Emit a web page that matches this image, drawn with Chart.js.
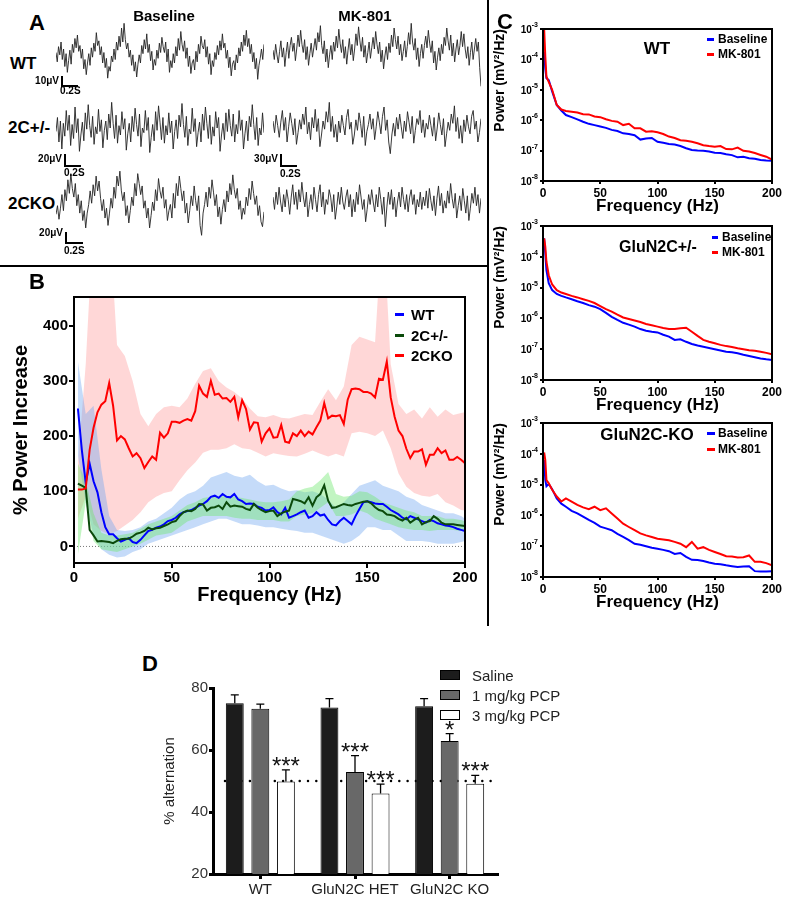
<!DOCTYPE html>
<html>
<head>
<meta charset="utf-8">
<script src="https://cdn.jsdelivr.net/npm/chart.js@4.4.1/dist/chart.umd.min.js"></script>
<style>
  body { margin: 0; background: #fff; }
  #fig { position: relative; width: 787px; height: 897px; background: #fff; overflow: hidden;
         font-family: 'Liberation Sans', Arial, sans-serif; }
  #fig canvas { position: absolute; }
  .t { position: absolute; white-space: nowrap; font-weight: bold; line-height: 1; transform: translate(-50%, -50%); }
  .l { position: absolute; white-space: nowrap; font-weight: bold; line-height: 1; transform: translateY(-50%); }
  .r { position: absolute; white-space: nowrap; font-weight: bold; line-height: 1; transform: translate(-100%, -50%); }
  .k { position: absolute; background: #000; }
  .sw { position: absolute; box-sizing: border-box; border: 1px solid #000; width: 20px; height: 10px; }
</style>
</head>
<body>
<div id="fig">
  <!-- panel A -->
  <canvas id="a1" width="208" height="70" style="left:56px;top:21px"></canvas>
  <canvas id="a2" width="208" height="70" style="left:273px;top:21px"></canvas>
  <canvas id="a3" width="208" height="70" style="left:56px;top:93px"></canvas>
  <canvas id="a4" width="208" height="70" style="left:273px;top:93px"></canvas>
  <canvas id="a5" width="208" height="74" style="left:56px;top:165px"></canvas>
  <canvas id="a6" width="208" height="74" style="left:273px;top:165px"></canvas>

  <div class="t" style="left:37px;top:23px;font-size:22px">A</div>
  <div class="t" style="left:164px;top:15px;font-size:15px">Baseline</div>
  <div class="t" style="left:365px;top:15px;font-size:15px">MK-801</div>
  <div class="l" style="left:10px;top:63px;font-size:17px">WT</div>
  <div class="l" style="left:8px;top:127px;font-size:17px">2C+/-</div>
  <div class="l" style="left:8px;top:203px;font-size:17px">2CKO</div>

  <div class="r" style="left:59px;top:81px;font-size:10px">10μV</div>
  <div class="k" style="left:61px;top:76px;width:1.5px;height:10px"></div>
  <div class="k" style="left:61px;top:85px;width:17px;height:1.5px"></div>
  <div class="l" style="left:60px;top:91px;font-size:10px">0.2S</div>

  <div class="r" style="left:62px;top:159px;font-size:10px">20μV</div>
  <div class="k" style="left:64px;top:154px;width:1.5px;height:12px"></div>
  <div class="k" style="left:64px;top:165px;width:17px;height:1.5px"></div>
  <div class="l" style="left:64px;top:173px;font-size:10px">0.2S</div>

  <div class="r" style="left:278px;top:159px;font-size:10px">30μV</div>
  <div class="k" style="left:280px;top:154px;width:1.5px;height:12px"></div>
  <div class="k" style="left:280px;top:165px;width:17px;height:1.5px"></div>
  <div class="l" style="left:280px;top:174px;font-size:10px">0.2S</div>

  <div class="r" style="left:63px;top:233px;font-size:10px">20μV</div>
  <div class="k" style="left:65px;top:232px;width:1.5px;height:11px"></div>
  <div class="k" style="left:65px;top:242px;width:18px;height:1.5px"></div>
  <div class="l" style="left:64px;top:251px;font-size:10px">0.2S</div>

  <!-- dividers -->
  <div class="k" style="left:0;top:265px;width:489px;height:2px"></div>
  <div class="k" style="left:487px;top:0;width:2px;height:626px"></div>

  <!-- panel B -->
  <canvas id="chartB" width="488" height="345" style="left:0;top:268px"></canvas>
  <div class="t" style="left:37px;top:282px;font-size:22px">B</div>
  <div class="k" style="left:395px;top:312.5px;width:9px;height:3px;background:#0000ff"></div>
  <div class="l" style="left:411px;top:314px;font-size:15px">WT</div>
  <div class="k" style="left:395px;top:333.5px;width:9px;height:3px;background:#0b4a0b"></div>
  <div class="l" style="left:411px;top:335px;font-size:15px">2C+/-</div>
  <div class="k" style="left:395px;top:353.5px;width:9px;height:3px;background:#ff0000"></div>
  <div class="l" style="left:411px;top:355px;font-size:15px">2CKO</div>

  <!-- panel C -->
  <canvas id="c1" width="299" height="222" style="left:488px;top:0"></canvas>
  <canvas id="c2" width="299" height="224" style="left:488px;top:197px"></canvas>
  <canvas id="c3" width="299" height="224" style="left:488px;top:394px"></canvas>
  <div class="t" style="left:505px;top:22px;font-size:22px">C</div>

  <div class="t" style="left:657px;top:48px;font-size:17px">WT</div>
  <div class="k" style="left:707px;top:37.5px;width:7px;height:3px;background:#0000ff"></div>
  <div class="l" style="left:718px;top:39px;font-size:12px">Baseline</div>
  <div class="k" style="left:707px;top:52.5px;width:7px;height:3px;background:#ff0000"></div>
  <div class="l" style="left:718px;top:54px;font-size:12px">MK-801</div>

  <div class="t" style="left:658px;top:247px;font-size:16px">GluN2C+/-</div>
  <div class="k" style="left:712px;top:235.5px;width:6px;height:3px;background:#0000ff"></div>
  <div class="l" style="left:722px;top:237px;font-size:12px">Baseline</div>
  <div class="k" style="left:712px;top:250.5px;width:6px;height:3px;background:#ff0000"></div>
  <div class="l" style="left:722px;top:252px;font-size:12px">MK-801</div>

  <div class="t" style="left:647px;top:434px;font-size:17px">GluN2C-KO</div>
  <div class="k" style="left:707px;top:431.5px;width:8px;height:3px;background:#0000ff"></div>
  <div class="l" style="left:718px;top:433px;font-size:12px">Baseline</div>
  <div class="k" style="left:707px;top:447.5px;width:8px;height:3px;background:#ff0000"></div>
  <div class="l" style="left:718px;top:449px;font-size:12px">MK-801</div>

  <!-- panel D -->
  <canvas id="chartD" width="480" height="257" style="left:160px;top:640px"></canvas>
  <div class="t" style="left:150px;top:664px;font-size:22px">D</div>
  <div class="sw" style="left:440px;top:670px;background:#1c1c1c"></div>
  <div class="l" style="left:472px;top:675px;font-size:15px;font-weight:normal;color:#222">Saline</div>
  <div class="sw" style="left:440px;top:690px;background:#686868"></div>
  <div class="l" style="left:472px;top:695px;font-size:15px;font-weight:normal;color:#222">1 mg/kg PCP</div>
  <div class="sw" style="left:440px;top:710px;background:#fff"></div>
  <div class="l" style="left:472px;top:715px;font-size:15px;font-weight:normal;color:#222">3 mg/kg PCP</div>
</div>

<script>
// ---------- panel A: EEG traces (µV, read by eye) ----------
const wtBaseTrace = [3,-5,8,1,12,-3,6,-9,2,-14,-4,5,-7,10,3,15,7,18,4,9,-2,6,-11,-3,-16,-6,2,-8,7,-1,11,4,20,9,13,1,8,-6,3,-10,-2,-19,-9,-13,0,-5,6,-3,12,5,17,8,24,12,28,14,6,11,-1,5,-8,1,-13,-5,-18,-7,1,-6,9,2,14,6,19,3,10,-4,4,-12,-3,-8,5,-2,11,3,16,8,3,12,-5,6,-14,-4,-10,2,-6,8,0,15,5,21,10,4,13,-2,7,-9,0,-15,-6,-3,-12,4,-5,10,2,17,9,6,14,-1,8,-7,2,-16,-4,-9,3,-3,9,1,13,5,19,7,11,-2,5,-10,-1,-17,-7,-4,-12,1,-6,7,0,12,4,18,9,22,8,15,2,10,-5,3,-11,-2,-20,-8,-2,6,-3,10];
const wtMkTrace = [5,-3,10,1,-6,4,13,-1,7,-9,3,12,-2,9,16,4,11,-4,6,18,8,22,10,3,14,-3,8,-8,2,11,-1,7,15,5,20,12,26,9,2,13,-5,6,-10,1,9,-3,12,4,17,7,23,11,3,14,-2,8,-7,5,15,1,10,-4,6,19,9,25,13,4,16,-1,9,-6,3,12,-2,7,16,6,21,10,2,12,-5,5,-11,0,8,-3,11,3,18,8,24,14,6,17,1,10,-4,4,13,-1,8,20,10,28,12,5,15,-3,7,-9,2,10,-2,9,17,7,22,11,3,13,-6,4,-12,-1,7,-4,10,2,16,9,24,13,5,18,0,11,-5,6,14,1,9,21,8,19,6,-2,8,-8,3,12,-3,6,15,4,12,-10,-26];
const hetBaseTrace = [-3,9,-12,6,-18,4,-7,15,-2,11,-15,3,-9,18,-4,8,-20,-6,5,-11,13,-1,20,2,-8,10,-14,1,-5,16,-3,7,-17,-2,6,-10,12,0,22,4,-9,11,-13,2,-6,14,-1,8,-19,-5,4,-12,10,-3,17,3,-7,12,-16,0,-4,15,-2,9,-21,-8,3,-11,14,-2,19,5,-10,9,-13,2,-6,13,-4,6,-18,-3,7,-9,11,1,21,3,-8,10,-15,-1,-5,17,-3,8,-16,-4,5,-12,12,-2,18,4,-9,11,-14,1,-7,14,0,9,-20,-6,4,-10,13,-3,16,2,-7,12,-12,3,-5,15,-2,7,-18,-5,6,-11,10,1,20,3,-10,9,-15,0,-6,13,-4];
const hetMkTrace = [6,-4,11,2,-8,5,15,-2,9,-12,1,13,4,-6,8,-14,-4,7,-1,12,3,18,-5,5,-10,9,0,16,-3,8,-16,-6,6,-1,14,5,22,-3,10,-8,3,-12,6,-4,11,2,-6,9,16,-1,5,-14,-6,7,-2,13,4,-8,10,-15,-3,3,12,-1,8,-10,1,14,5,-5,10,18,-2,7,-12,-22,-6,4,-7,9,-1,12,1,-9,6,-3,14,5,-5,10,-13,-2,8,3,15,-4,7,-8,4,-1,11,2,-7,9,-11,0,13,3,-6,8,-16,-5,5,-2,12,4,19,-3,9,-9,2,-13,7,-3,11,1,-5,10,15,-1,6,-12,-4,8];
const koBaseTrace = [-10,-3,-14,-5,6,-7,10,1,18,7,23,11,4,15,-3,6,-9,1,-15,-7,-21,-9,-2,9,-1,14,5,21,9,17,3,-7,2,-13,-5,-19,-9,3,-5,12,3,21,13,25,9,1,8,-11,-3,-17,-7,4,-3,15,5,23,15,6,13,-5,1,-13,-5,-21,-11,0,-7,10,1,19,9,3,12,-5,2,-15,-7,-2,-13,7,-5,15,5,21,11,1,9,-9,-1,-17,-7,5,-3,13,1,-7,5,-19,-27,-9,-2,8,-4,12,3,18,8,-3,6,-12,-4,-18,-6,2,-8,9,0,15,6,22,10,3,11,-6,1,-14,-5,-10,4,-3,11,2,17,7,-2,5,-11,-3,-16,-20,-8];
const koMkTrace = [4,-6,8,-2,12,0,-8,6,-4,10,2,-10,4,14,-2,8,-6,10,0,16,4,-4,8,-12,-2,6,-6,12,2,-8,6,14,-4,8,-10,2,-2,10,4,-8,6,-14,-4,8,-2,12,0,-6,4,10,-4,6,-12,2,-8,8,-2,14,4,-6,2,-16,-6,6,-2,10,0,-8,6,-4,12,2,-10,4,-20,-4,8,-2,10,-6,4,-12,0,8,-4,12,2,-6,6,-8,4,10,-2,6,-10,2,-4,8,-6,4,-3,9,-5,11,1,-7,5,-11,3,13,-3,7,-9,1,-5,9,-1,15,3,-5,7,-13,-3,5,-7,11,1,-9,5,-15,-5,7,-1,12,-3,6,-9,3];

// ---------- panel B: % power increase ----------
const freqB = [2,4,6,8,10,12,14,16,18,20,22,24,26,28,30,32,34,36,38,40,42,44,46,48,50,52,54,56,58,60,62,64,66,68,70,72,74,76,78,80,82,84,86,88,90,92,94,96,98,100,102,104,106,108,110,112,114,116,118,120,122,124,126,128,130,132,134,136,138,140,142,144,146,148,150,152,154,156,158,160,162,164,166,168,170,172,174,176,178,180,182,184,186,188,190,192,194,196,198,200];
const koMean = [103,103,105,175,215,243,257,263,296,255,192,200,194,178,163,169,160,142,153,163,157,206,197,205,226,226,224,228,231,228,245,291,277,271,300,275,277,268,269,262,271,234,265,249,212,225,224,190,205,214,197,198,220,190,188,205,200,210,200,208,203,216,228,260,232,237,236,238,222,266,285,286,285,280,280,277,270,304,302,335,270,235,210,200,177,160,172,172,176,148,166,166,178,169,174,157,157,162,157,151];
const wtMean = [250,175,115,150,118,98,62,35,22,22,15,9,12,15,8,6,12,20,28,30,34,36,40,46,48,52,58,62,64,66,70,74,77,82,90,92,88,95,90,89,95,85,82,77,78,77,72,70,65,66,71,62,58,70,52,55,58,62,65,52,55,62,56,58,48,40,38,46,52,46,40,55,68,80,82,80,78,77,77,72,66,62,58,52,49,55,52,49,46,43,48,46,42,40,38,37,35,32,30,28];
const hetMean = [114,110,106,30,20,9,10,9,8,6,10,13,14,14,18,23,25,28,34,31,33,34,37,40,44,46,55,62,65,64,68,77,76,65,70,71,74,68,80,72,74,73,72,68,66,77,70,66,62,64,65,55,60,63,65,86,84,82,78,89,74,89,95,111,83,70,71,74,77,75,74,77,79,81,82,78,71,66,64,58,57,55,50,47,52,43,48,52,40,44,46,55,50,43,40,40,40,39,38,37];
const freqBand = [2,6,10,14,18,22,26,30,34,38,42,46,50,54,58,62,66,70,74,78,82,86,90,94,98,102,106,110,114,118,122,126,130,134,138,142,146,150,154,158,162,166,170,174,178,182,186,190,194,198,200];
const koUpper = [150,330,600,600,600,365,345,300,240,218,240,252,255,252,268,295,318,323,300,288,280,268,250,236,234,238,233,232,236,240,238,262,285,265,290,365,380,375,370,600,330,258,240,248,232,252,235,248,238,242,243];
const koLower = [50,90,40,28,22,28,38,48,62,80,90,97,100,120,138,152,170,175,175,178,185,178,176,170,163,169,166,164,163,168,174,168,163,168,163,205,208,205,200,210,178,132,108,97,92,90,95,80,74,66,65];
const wtUpper = [335,240,255,140,55,30,28,30,35,45,50,60,70,85,95,100,110,125,130,135,128,125,130,118,110,112,105,100,102,98,100,95,85,70,80,95,110,115,120,110,105,100,90,85,75,70,65,60,60,55,50];
const wtLower = [165,80,20,-5,-15,-20,-18,-10,-5,5,10,15,20,25,30,35,40,45,50,50,45,40,40,38,35,35,32,30,28,25,25,20,15,10,5,10,20,35,35,30,30,20,10,10,10,8,5,5,5,8,10];
const hetUpper = [150,120,60,25,20,20,22,25,32,40,45,50,55,65,75,80,88,90,90,92,90,88,85,82,80,80,82,85,100,105,108,120,135,95,90,92,100,98,90,80,75,70,65,62,55,55,55,50,50,48,45];
const hetLower = [-15,80,10,-5,-8,-10,-5,0,5,12,20,22,25,35,45,50,55,55,55,55,52,50,50,48,48,48,45,45,55,58,60,70,80,55,55,58,65,60,50,45,40,35,32,30,30,28,30,30,30,28,30];
const yTicksB = [0, 100, 200, 300, 400];
const hzTicks = [0, 50, 100, 150, 200];

// ---------- panel C: power spectra (mV^2/Hz) ----------
const cFreq = [1,2,3,5,8,12,16,20,25,30,35,40,45,50,55,60,65,70,75,80,85,90,95,100,105,110,115,120,125,130,135,140,145,150,155,160,165,170,175,180,185,190,195,200];
const wtBaseline = [1.78e-4,5.0e-5,2.4e-5,2.1e-5,8.9e-6,3.16e-6,2.09e-6,1.48e-6,1.26e-6,1.07e-6,8.9e-7,7.6e-7,6.9e-7,6.2e-7,5.6e-7,4.8e-7,4.4e-7,3.7e-7,3.5e-7,3.2e-7,2.3e-7,2.5e-7,2.6e-7,1.95e-7,1.8e-7,1.66e-7,1.58e-7,1.41e-7,1.2e-7,1.05e-7,1.0e-7,9.8e-8,9.3e-8,8.5e-8,8.3e-8,7.6e-8,7.1e-8,6.0e-8,6.3e-8,5.6e-8,5.4e-8,4.9e-8,4.7e-8,4.6e-8];
const wtMk801 = [1.0e-3,1.26e-4,2.69e-5,1.82e-5,1.0e-5,3.16e-6,2.24e-6,2.0e-6,1.91e-6,1.78e-6,1.58e-6,1.55e-6,1.32e-6,1.26e-6,1.07e-6,9.5e-7,8.9e-7,6.9e-7,7.6e-7,5.4e-7,5.4e-7,4.2e-7,4.3e-7,4.0e-7,3.5e-7,2.9e-7,2.6e-7,2.2e-7,2.1e-7,1.95e-7,1.74e-7,1.51e-7,1.41e-7,1.35e-7,1.41e-7,1.12e-7,1.1e-7,1.26e-7,9.8e-8,9.3e-8,8.3e-8,7.2e-8,6.3e-8,5.1e-8];
const hetBaseline = [3.98e-4,1.29e-4,3.72e-5,1.38e-5,8.3e-6,6.2e-6,5.4e-6,4.8e-6,4.2e-6,3.6e-6,3.16e-6,2.69e-6,2.4e-6,2.0e-6,1.51e-6,1.12e-6,8.9e-7,7.2e-7,6.3e-7,5.4e-7,4.5e-7,4.0e-7,3.7e-7,3.5e-7,2.95e-7,2.57e-7,2.0e-7,2.1e-7,1.74e-7,1.48e-7,1.32e-7,1.2e-7,1.1e-7,1.0e-7,9.1e-8,8.3e-8,7.9e-8,7.4e-8,6.6e-8,6.0e-8,5.5e-8,5.0e-8,4.7e-8,4.5e-8];
const hetMk801 = [3.98e-4,2.14e-4,6.9e-5,2.51e-5,1.26e-5,8.3e-6,6.9e-6,6.2e-6,5.4e-6,4.8e-6,4.2e-6,3.7e-6,3.16e-6,2.51e-6,2.0e-6,1.66e-6,1.32e-6,1.07e-6,9.5e-7,8.5e-7,7.6e-7,6.6e-7,6.0e-7,5.4e-7,4.9e-7,4.5e-7,4.5e-7,4.8e-7,5.0e-7,3.7e-7,2.7e-7,2.0e-7,1.74e-7,1.55e-7,1.38e-7,1.26e-7,1.17e-7,1.07e-7,1.0e-7,9.3e-8,8.9e-8,8.3e-8,7.6e-8,6.8e-8];
const koBaseline = [6.3e-5,1.41e-5,8.9e-6,1.05e-5,7.1e-6,3.55e-6,2.4e-6,1.91e-6,1.41e-6,1.17e-6,9.1e-7,7.1e-7,5.75e-7,4.3e-7,3.8e-7,3.3e-7,2.5e-7,2.0e-7,1.58e-7,1.2e-7,1.12e-7,1.0e-7,8.9e-8,8.3e-8,7.6e-8,6.9e-8,5.6e-8,6.0e-8,4.5e-8,3.6e-8,3.55e-8,3.3e-8,2.95e-8,2.7e-8,2.6e-8,2.4e-8,2.24e-8,2.1e-8,2.19e-8,2.24e-8,1.55e-8,1.51e-8,1.51e-8,1.55e-8];
const koMk801 = [1.1e-4,6.3e-5,1.41e-5,1.1e-5,6.8e-6,4.1e-6,2.82e-6,3.55e-6,2.82e-6,2.19e-6,1.82e-6,1.58e-6,1.91e-6,1.48e-6,1.7e-6,1.15e-6,7.9e-7,5.4e-7,4.2e-7,3.3e-7,2.6e-7,2.24e-7,2.0e-7,1.74e-7,1.66e-7,1.55e-7,1.38e-7,1.2e-7,9.3e-8,1.38e-7,8.3e-8,9.3e-8,7.6e-8,6.5e-8,5.6e-8,4.7e-8,4.6e-8,4.3e-8,4.4e-8,5.0e-8,3.1e-8,3.1e-8,2.82e-8,2.4e-8];
const powerTicks = [1e-8, 1e-7, 1e-6, 1e-5, 1e-4, 1e-3];
const powerExponents = ['-8', '-7', '-6', '-5', '-4', '-3'];

// ---------- panel D: % alternation ----------
const groups = ['WT', 'GluN2C HET', 'GluN2C KO'];
const saline = [75.1, 73.7, 74.1];
const salineErr = [2.7, 2.9, 2.5];
const pcp1 = [73.3, 52.9, 62.9];
const pcp1Err = [1.5, 5.3, 2.4];
const pcp3 = [49.8, 46.0, 49.1];
const pcp3Err = [3.8, 3.0, 2.7];
const salineStars = ['', '', ''];
const pcp1Stars = ['', '***', '*'];
const pcp3Stars = ['***', '***', '***'];
const yTicksD = [20, 40, 60, 80];
const chanceLevel = 50;

const FONT = "'Liberation Sans', Arial, sans-serif";
Chart.defaults.font.family = FONT;
Chart.defaults.color = '#000';
Chart.defaults.animation = false;
Chart.defaults.plugins.legend.display = false;
Chart.defaults.plugins.tooltip.enabled = false;
Chart.defaults.elements.point.radius = 0;
Chart.defaults.elements.line.tension = 0;

const pts = (xs, ys) => xs.map((x, i) => ({ x: x, y: ys[i] }));
const fixTicks = vals => scale => { scale.ticks = vals.map(v => ({ value: v })); };

const frame = {
    id: 'frame',
    afterDatasetsDraw(chart) {
        const { ctx, chartArea: a } = chart;
        ctx.save();
        ctx.strokeStyle = '#000';
        ctx.lineWidth = 2;
        ctx.strokeRect(a.left, a.top, a.right - a.left, a.bottom - a.top);
        ctx.restore();
    }
};

// panel A
function trace(id, vals) {
    new Chart(document.getElementById(id), {
        type: 'line',
        data: {
            labels: vals.map((v, i) => i),
            datasets: [{ data: vals, borderColor: 'rgba(35,35,35,0.9)', borderWidth: 1 }]
        },
        options: {
            responsive: false,
            layout: { padding: 0 },
            scales: { x: { display: false }, y: { display: false, min: -30, max: 30 } }
        }
    });
}
trace('a1', wtBaseTrace);
trace('a2', wtMkTrace);
trace('a3', hetBaseTrace);
trace('a4', hetMkTrace);
trace('a5', koBaseTrace);
trace('a6', koMkTrace);

// panel B
const zeroLine = {
    id: 'zeroLine',
    beforeDatasetsDraw(chart) {
        const { ctx, chartArea: a } = chart;
        const y = chart.scales.y.getPixelForValue(0);
        ctx.save();
        ctx.strokeStyle = '#777';
        ctx.lineWidth = 1;
        ctx.setLineDash([1, 2]);
        ctx.beginPath();
        ctx.moveTo(a.left, y);
        ctx.lineTo(a.right, y);
        ctx.stroke();
        ctx.restore();
    }
};

const band = (data, color, fill, order) => ({
    data: data, fill: fill, backgroundColor: color, borderWidth: 0, order: order
});

new Chart(document.getElementById('chartB'), {
    type: 'line',
    data: {
        datasets: [
            { data: pts(freqB, koMean), borderColor: '#ff0000', borderWidth: 2, order: 0 },
            { data: pts(freqB, hetMean), borderColor: '#0b4a0b', borderWidth: 2, order: 1 },
            { data: pts(freqB, wtMean), borderColor: '#0000ff', borderWidth: 2, order: 2 },
            band(pts(freqBand, hetUpper), 'rgba(110,230,110,0.42)', '+1', 3),
            band(pts(freqBand, hetLower), 'transparent', false, 3),
            band(pts(freqBand, wtUpper), 'rgba(110,165,240,0.40)', '+1', 4),
            band(pts(freqBand, wtLower), 'transparent', false, 4),
            band(pts(freqBand, koUpper), 'rgba(255,150,150,0.38)', '+1', 5),
            band(pts(freqBand, koLower), 'transparent', false, 5)
        ]
    },
    options: {
        responsive: false,
        layout: { padding: { left: 0, top: 29, right: 23, bottom: 2 } },
        scales: {
            x: {
                type: 'linear', min: 0, max: 200,
                afterBuildTicks: fixTicks(hzTicks),
                afterFit: s => { s.height = 48; },
                border: { display: false },
                grid: { drawOnChartArea: false, tickLength: 5, color: '#000', lineWidth: 2 },
                ticks: { font: { size: 15, weight: 'bold' }, padding: 1, maxRotation: 0 },
                title: { display: true, text: 'Frequency (Hz)', font: { size: 20, weight: 'bold' }, padding: { top: 0, bottom: 4 } }
            },
            y: {
                min: -30, max: 452,
                afterBuildTicks: fixTicks(yTicksB),
                afterFit: s => { s.width = 74; },
                border: { display: false },
                grid: { drawOnChartArea: false, tickLength: 5, color: '#000', lineWidth: 2 },
                ticks: { font: { size: 15, weight: 'bold' }, padding: 1 },
                title: { display: true, text: '% Power Increase', font: { size: 20, weight: 'bold' }, padding: { top: 9, bottom: 0 } }
            }
        }
    },
    plugins: [zeroLine, frame]
});

// panel C
const powerLabels = {
    id: 'powerLabels',
    afterDraw(chart) {
        const { ctx } = chart;
        const s = chart.scales.y;
        ctx.save();
        ctx.fillStyle = '#000';
        ctx.textBaseline = 'middle';
        powerTicks.forEach((v, i) => {
            const y = s.getPixelForValue(v);
            const right = s.right - 5;
            ctx.font = 'bold 7px ' + FONT;
            const ew = ctx.measureText(powerExponents[i]).width;
            ctx.textAlign = 'left';
            ctx.fillText(powerExponents[i], right - ew, y - 4);
            ctx.font = 'bold 10px ' + FONT;
            ctx.textAlign = 'right';
            ctx.fillText('10', right - ew, y + 1);
        });
        ctx.restore();
    }
};

function spectrum(id, base, mk) {
    new Chart(document.getElementById(id), {
        type: 'line',
        data: {
            datasets: [
                { data: pts(cFreq, mk), borderColor: '#ff0000', borderWidth: 2 },
                { data: pts(cFreq, base), borderColor: '#0000ff', borderWidth: 2 }
            ]
        },
        options: {
            responsive: false,
            layout: { padding: { left: 0, top: 29, right: 15, bottom: 1 } },
            scales: {
                x: {
                    type: 'linear', min: 0, max: 200,
                    afterBuildTicks: fixTicks(hzTicks),
                    afterFit: s => { s.height = 40; },
                    border: { display: false },
                    grid: { drawOnChartArea: false, tickLength: 3, color: '#000', lineWidth: 2 },
                    ticks: { font: { size: 12, weight: 'bold' }, padding: 2, maxRotation: 0 },
                    title: { display: true, text: 'Frequency (Hz)', font: { size: 17, weight: 'bold' }, padding: { top: 0, bottom: 4 } }
                },
                y: {
                    type: 'logarithmic', min: 1e-8, max: 1e-3,
                    afterBuildTicks: fixTicks(powerTicks),
                    afterFit: s => { s.width = 55; },
                    border: { display: false },
                    grid: { drawOnChartArea: false, tickLength: 3, color: '#000', lineWidth: 2 },
                    ticks: { display: false },
                    title: { display: true, text: 'Power (mV²/Hz)', align: 'end', font: { size: 14, weight: 'bold' }, padding: { top: 4, bottom: 0 } }
                }
            }
        },
        plugins: [frame, powerLabels]
    });
}
spectrum('c1', wtBaseline, wtMk801);
spectrum('c2', hetBaseline, hetMk801);
spectrum('c3', koBaseline, koMk801);

// panel D
const chanceLine = {
    id: 'chanceLine',
    beforeDatasetsDraw(chart) {
        const { ctx, chartArea: a } = chart;
        const y = chart.scales.y.getPixelForValue(chanceLevel);
        ctx.save();
        ctx.strokeStyle = '#000';
        ctx.lineWidth = 2.5;
        ctx.lineCap = 'round';
        ctx.setLineDash([0, 8.3]);
        ctx.beginPath();
        ctx.moveTo(a.left + 12, y);
        ctx.lineTo(a.right, y);
        ctx.stroke();
        ctx.restore();
    }
};

const errorBars = {
    id: 'errorBars',
    afterDatasetsDraw(chart) {
        const { ctx } = chart;
        const yScale = chart.scales.y;
        ctx.save();
        ctx.strokeStyle = '#000';
        ctx.fillStyle = '#111';
        ctx.lineWidth = 1.3;
        ctx.font = '24px ' + FONT;
        ctx.textAlign = 'center';
        ctx.textBaseline = 'alphabetic';
        chart.data.datasets.forEach((ds, i) => {
            chart.getDatasetMeta(i).data.forEach((bar, j) => {
                const top = yScale.getPixelForValue(ds.data[j] + ds.errors[j]);
                ctx.beginPath();
                ctx.moveTo(bar.x, bar.y);
                ctx.lineTo(bar.x, top);
                ctx.moveTo(bar.x - 4, top);
                ctx.lineTo(bar.x + 4, top);
                ctx.stroke();
                if (ds.stars[j]) ctx.fillText(ds.stars[j], bar.x, top + 4);
            });
        });
        ctx.restore();
    }
};

const barSet = (label, data, errors, stars, color) => ({
    label: label, data: data, errors: errors, stars: stars,
    backgroundColor: color, borderColor: '#000', borderWidth: 1, borderSkipped: false,
    categoryPercentage: 0.81, barPercentage: 0.7
});

new Chart(document.getElementById('chartD'), {
    type: 'bar',
    data: {
        labels: groups,
        datasets: [
            barSet('Saline', saline, salineErr, salineStars, '#1c1c1c'),
            barSet('1 mg/kg PCP', pcp1, pcp1Err, pcp1Stars, '#686868'),
            barSet('3 mg/kg PCP', pcp3, pcp3Err, pcp3Stars, '#ffffff')
        ]
    },
    options: {
        responsive: false,
        layout: { padding: { left: 0, top: 48, right: 143, bottom: 0 } },
        scales: {
            x: {
                afterFit: s => { s.height = 23; },
                border: { color: '#000', width: 3 },
                grid: { drawOnChartArea: false, offset: false, tickLength: 5, color: '#000', lineWidth: 3 },
                ticks: { font: { size: 15 }, color: '#222', padding: 2 }
            },
            y: {
                min: 20, max: 80,
                afterBuildTicks: fixTicks(yTicksD),
                afterFit: s => { s.width = 53; },
                border: { color: '#000', width: 3 },
                grid: { drawOnChartArea: false, tickLength: 4, color: '#000', lineWidth: 3 },
                ticks: { font: { size: 15 }, color: '#333', padding: 1 },
                title: { display: true, text: '% alternation', font: { size: 15 }, color: '#222', padding: { top: 1, bottom: 0 } }
            }
        }
    },
    plugins: [chanceLine, errorBars]
});
</script>
</body>
</html>
